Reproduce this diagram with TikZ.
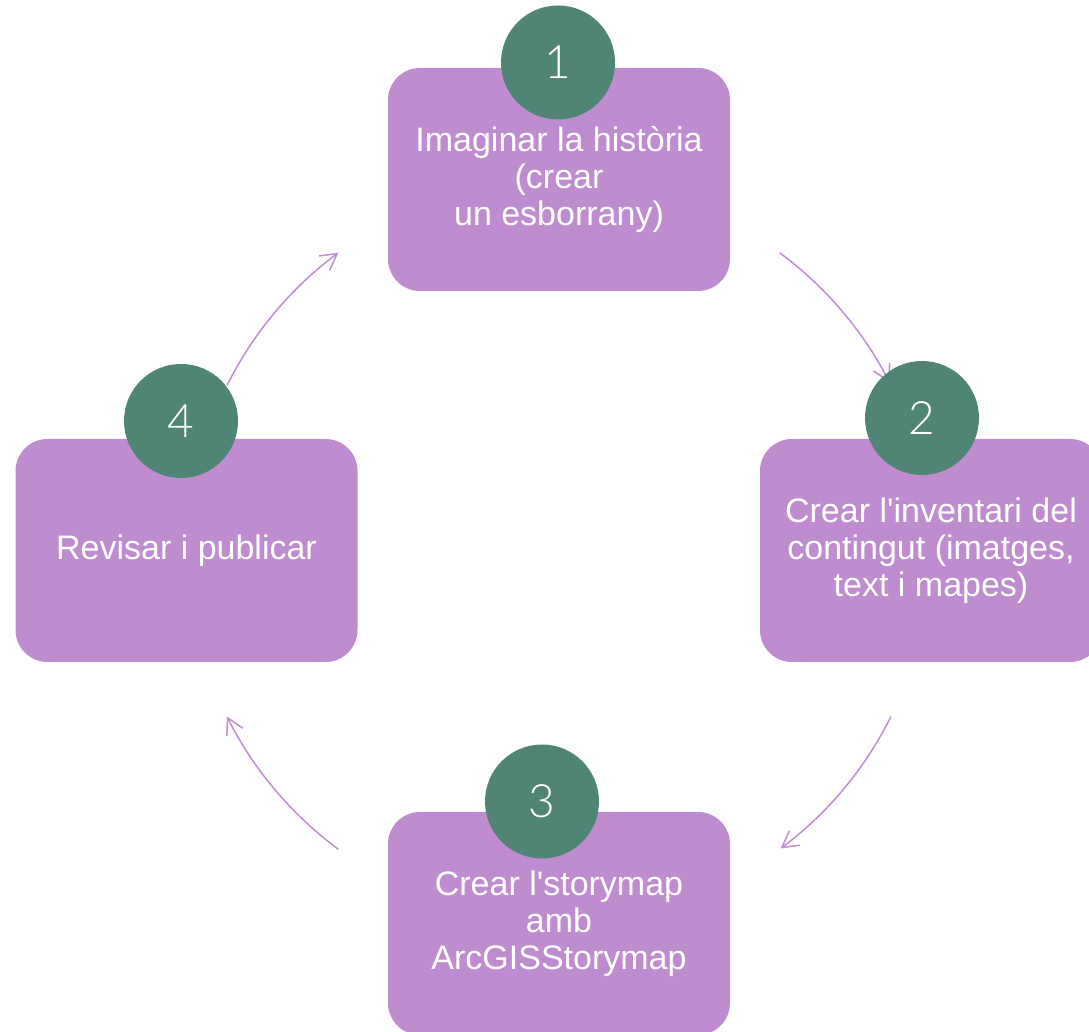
\documentclass[tikz,border=0pt]{standalone}
\usepackage{fontspec}
\setmainfont{Liberation Sans}
\IfFontExistsTF{Lato Light}{\newfontfamily\numfont{Lato Light}}{\newfontfamily\numfont{DejaVu Sans}}
\usetikzlibrary{arrows.meta}

\definecolor{boxpurple}{RGB}{191,141,207}
\definecolor{badgegreen}{RGB}{80,133,117}
\definecolor{arrowpurple}{RGB}{192,142,212}

\begin{document}
\begin{tikzpicture}[x=1pt, y=1pt,
		stepbox/.style={fill=boxpurple, rounded corners=32pt, minimum width=342pt, minimum height=223pt, inner sep=0pt, text=white, align=center, font=\fontsize{34}{37}\selectfont},
		badge/.style={circle, fill=badgegreen, minimum size=114pt, inner sep=0pt, text=white, font=\numfont\fontsize{46}{46}\selectfont},
		cyclearrow/.style={arrowpurple, line width=1.5pt, -{Straight Barb[length=16pt, width=18pt]}},
	]
		\clip (0,0) rectangle (1089,1032);

		\coordinate (hub) at (559,481);
		\draw[cyclearrow] (hub) ++(53.5:371pt) arc[start angle=53.5, end angle=27, radius=371pt];
		\draw[cyclearrow] (hub) ++(-26.5:371pt) arc[start angle=-26.5, end angle=-53.3, radius=371pt];
		\draw[cyclearrow] (hub) ++(-126.5:371pt) arc[start angle=-126.5, end angle=-153.5, radius=371pt];
		\draw[cyclearrow] (hub) ++(153.5:371pt) arc[start angle=153.5, end angle=126.5, radius=371pt];

		\node[stepbox] (box1) at (559,852.5) {Imaginar la història\\(crear\\un esborrany)};
		\node[stepbox] (box2) at (931,481.5) {Crear l\textquotesingle inventari del\\contingut (imatges,\\text i mapes)};
		\node[stepbox] (box3) at (559,108.5) {Crear l\textquotesingle storymap\\amb\\ArcGISStorymap};
		\node[stepbox] (box4) at (186.5,481.5) {Revisar i publicar};

		\node[badge] (num1) at (558,969.5) {1};
		\node[badge] (num2) at (922,614) {2};
		\node[badge] (num3) at (542,230.5) {3};
		\node[badge] (num4) at (181,611) {4};
	\end{tikzpicture}
\end{document}
